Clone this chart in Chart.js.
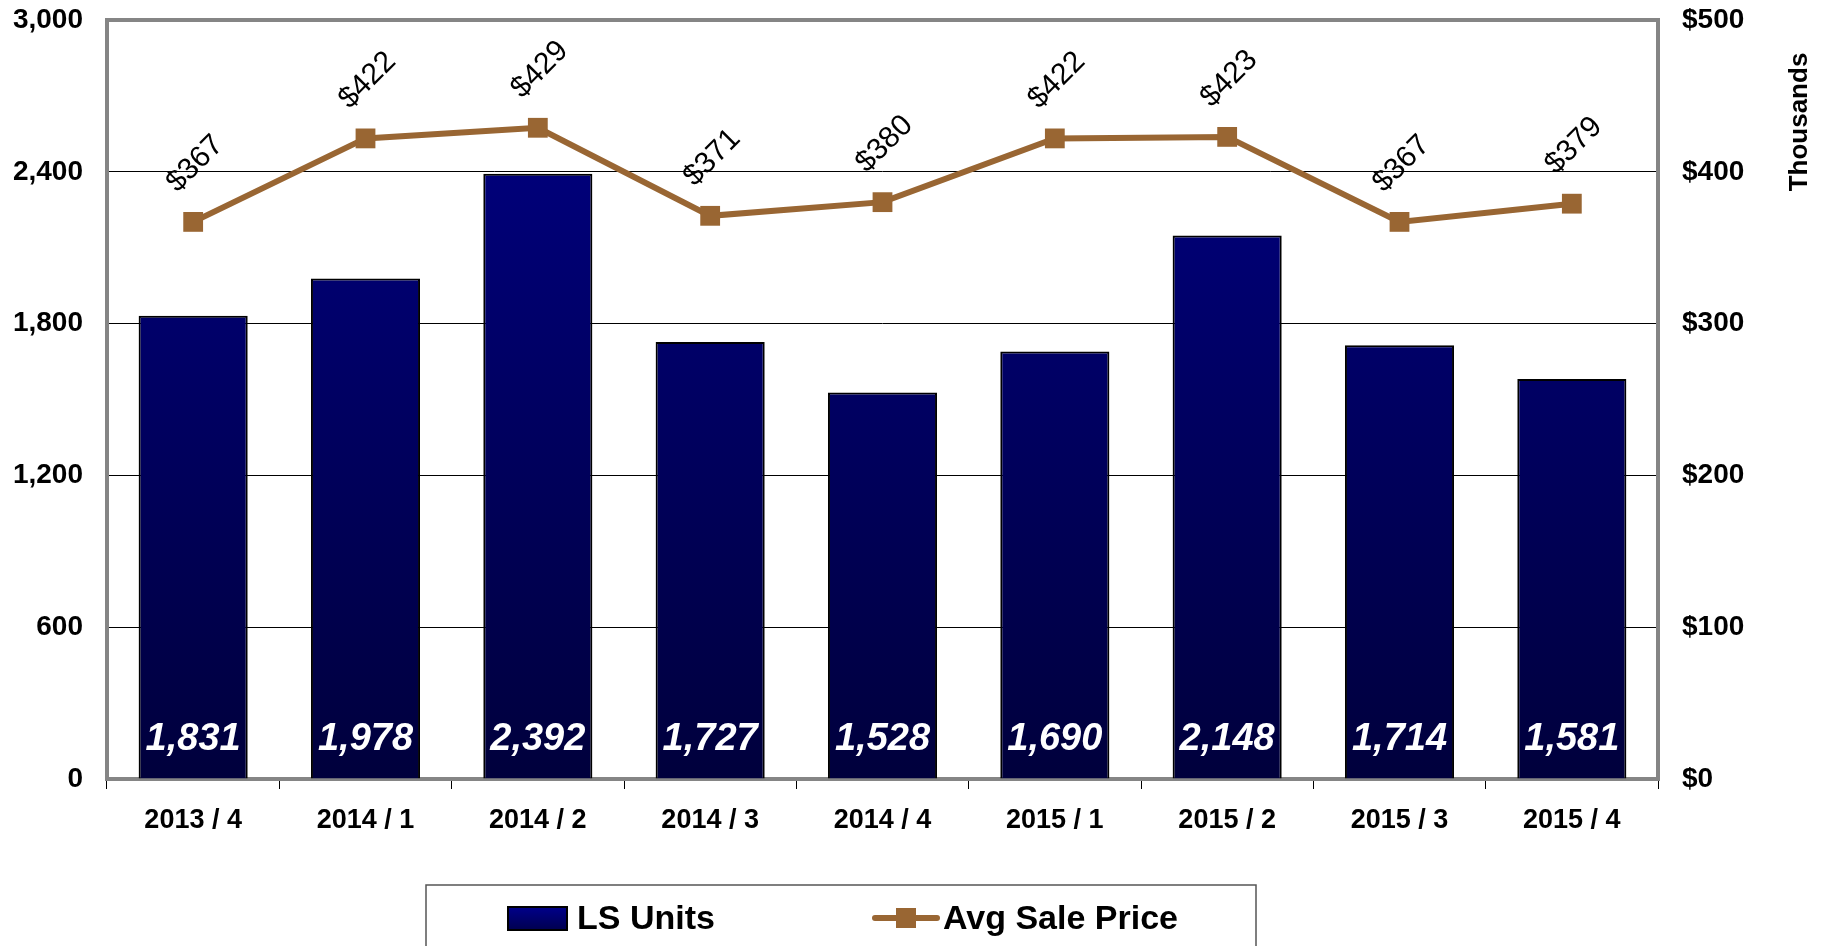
<!DOCTYPE html>
<html>
<head>
<meta charset="utf-8">
<script src="https://cdn.jsdelivr.net/npm/chart.js@4"></script>
<style>
  html, body { margin: 0; padding: 0; background: #fff; }
  #wrap { width: 1829px; height: 946px; position: relative; }
</style>
</head>
<body>
<div id="wrap"><canvas id="salesChart"></canvas></div>
<script>
// quarters on the x axis
const categories = ['2013 / 4', '2014 / 1', '2014 / 2', '2014 / 3', '2014 / 4', '2015 / 1', '2015 / 2', '2015 / 3', '2015 / 4'];
// units sold per quarter (bars, left axis)
const lsUnits = [1831, 1978, 2392, 1727, 1528, 1690, 2148, 1714, 1581];
// average sale price, in thousands of dollars (line, right axis)
const avgSalePrice = [367, 422, 429, 371, 380, 422, 423, 367, 379];
// axis ranges
const unitsTicks = [0, 600, 1200, 1800, 2400, 3000];
const priceTicks = [0, 100, 200, 300, 400, 500];

const FONT = '"Liberation Sans", Arial, Helvetica, sans-serif';
Chart.defaults.font.family = FONT;
Chart.defaults.color = '#000';

const BROWN = '#996633';

const barFill = (context) => {
    const { chart } = context;
    const area = chart.chartArea;
    if (!area) return '#000080';
    const g = chart.ctx.createLinearGradient(0, area.top, 0, area.bottom);
    g.addColorStop(0, '#000088');
    g.addColorStop(1, '#00003c');
    return g;
};

// keep the tick labels from pushing the plot area down
const fixSide = (width) => (s) => {
    s.width = width;
    s.paddingTop = 0;
    s.paddingBottom = 0;
};

// frame, value labels, right axis title and the boxed legend
const decor = {
    id: 'decor',
    beforeDatasetsDraw(chart) {
        const { ctx, chartArea: a } = chart;
        ctx.save();
        ctx.strokeStyle = '#858585';
        ctx.lineWidth = 4;
        ctx.strokeRect(a.left, a.top, a.right - a.left, a.bottom - a.top);
        ctx.restore();
    },
    afterDatasetsDraw(chart) {
        const { ctx, chartArea: a } = chart;
        ctx.save();
        // bar values inside the bars
        ctx.fillStyle = '#fff';
        ctx.font = `italic bold 38px ${FONT}`;
        ctx.textAlign = 'center';
        ctx.textBaseline = 'middle';
        chart.getDatasetMeta(0).data.forEach((el, i) => {
            ctx.fillText(lsUnits[i].toLocaleString('en-US'), el.x, a.bottom - 39);
        });
        // price labels, tilted
        ctx.fillStyle = '#000';
        ctx.font = `30px ${FONT}`;
        chart.getDatasetMeta(1).data.forEach((el, i) => {
            ctx.save();
            ctx.translate(el.x + 2, el.y - 58);
            ctx.rotate(-Math.PI / 4);
            ctx.fillText('$' + avgSalePrice[i], 0, 0);
            ctx.restore();
        });
        ctx.restore();
    },
    afterDraw(chart) {
        const { ctx } = chart;
        ctx.save();
        // right axis title
        ctx.font = `bold 26px ${FONT}`;
        ctx.fillStyle = '#000';
        ctx.textAlign = 'center';
        ctx.textBaseline = 'middle';
        ctx.translate(1800, 122);
        ctx.rotate(-Math.PI / 2);
        ctx.fillText('Thousands', 0, 0);
        ctx.restore();

        // legend box
        ctx.save();
        ctx.strokeStyle = '#555';
        ctx.lineWidth = 1.5;
        ctx.strokeRect(426, 885, 830, 100);
        // bar swatch
        const g = ctx.createLinearGradient(0, 907, 0, 930);
        g.addColorStop(0, '#00008a');
        g.addColorStop(1, '#000050');
        ctx.fillStyle = g;
        ctx.fillRect(508, 907, 59, 23);
        ctx.strokeStyle = '#000';
        ctx.lineWidth = 2;
        ctx.strokeRect(508, 907, 59, 23);
        // line swatch
        ctx.strokeStyle = BROWN;
        ctx.lineWidth = 6;
        ctx.lineCap = 'round';
        ctx.beginPath();
        ctx.moveTo(875, 918);
        ctx.lineTo(937, 918);
        ctx.stroke();
        ctx.fillStyle = BROWN;
        ctx.fillRect(896, 908, 20, 20);
        // legend text
        ctx.fillStyle = '#000';
        ctx.font = `bold 34px ${FONT}`;
        ctx.textAlign = 'left';
        ctx.textBaseline = 'middle';
        ctx.fillText(chart.data.datasets[0].label, 577, 920);
        ctx.fillText(chart.data.datasets[1].label, 943, 920);
        ctx.restore();
    }
};

new Chart(document.getElementById('salesChart'), {
    type: 'bar',
    data: {
        labels: categories,
        datasets: [
            {
                type: 'bar',
                label: 'LS Units',
                data: lsUnits,
                yAxisID: 'y',
                backgroundColor: barFill,
                borderColor: '#000',
                borderWidth: 2,
                categoryPercentage: 1,
                barPercentage: 0.633,
                order: 1
            },
            {
                type: 'line',
                label: 'Avg Sale Price',
                data: avgSalePrice,
                yAxisID: 'y1',
                borderColor: BROWN,
                backgroundColor: BROWN,
                borderWidth: 6,
                pointStyle: 'rect',
                pointRadius: 14,
                pointBorderWidth: 0,
                tension: 0,
                order: 0
            }
        ]
    },
    options: {
        responsive: true,
        maintainAspectRatio: false,
        animation: false,
        layout: { padding: { top: 20, bottom: 107, left: 0, right: 0 } },
        plugins: {
            legend: { display: false },
            tooltip: { enabled: false }
        },
        scales: {
            x: {
                grid: { drawOnChartArea: false, drawTicks: true, tickLength: 10, color: '#000', offset: true },
                border: { display: false },
                ticks: { font: { size: 27, weight: 'bold' }, padding: 15, maxRotation: 0, autoSkip: false },
                afterFit: (s) => { s.height = 60; s.paddingLeft = 0; s.paddingRight = 0; }
            },
            y: {
                position: 'left',
                min: unitsTicks[0],
                max: unitsTicks[unitsTicks.length - 1],
                afterBuildTicks: (s) => { s.ticks = unitsTicks.map(v => ({ value: v })); },
                ticks: {
                    font: { size: 28, weight: 'bold' },
                    padding: 24,
                    callback: (v) => v.toLocaleString('en-US')
                },
                grid: { color: '#000', lineWidth: 1, drawTicks: false },
                border: { display: false },
                afterFit: fixSide(107)
            },
            y1: {
                position: 'right',
                min: priceTicks[0],
                max: priceTicks[priceTicks.length - 1],
                afterBuildTicks: (s) => { s.ticks = priceTicks.map(v => ({ value: v })); },
                ticks: {
                    font: { size: 28, weight: 'bold' },
                    padding: 24,
                    callback: (v) => '$' + v
                },
                grid: { display: false, drawTicks: false },
                border: { display: false },
                afterFit: fixSide(171)
            }
        }
    },
    plugins: [decor]
});
</script>
</body>
</html>
